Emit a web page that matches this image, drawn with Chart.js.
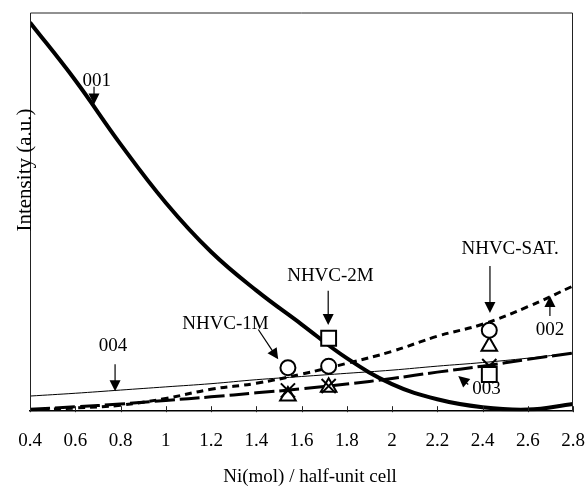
<!DOCTYPE html>
<html>
<head>
<meta charset="utf-8">
<script src="https://cdn.jsdelivr.net/npm/chart.js@4.4.1/dist/chart.umd.min.js"></script>
<style>
  body { margin: 0; background: #fff; }
  #caja { width: 586px; height: 487px; }
</style>
</head>
<body>
<div id="caja"><canvas id="grafico" width="586" height="487"></canvas></div>
<script>
// composicion Ni (mol / half-unit cell)
const ejeX = [0.4, 0.6, 0.8, 1.0, 1.2, 1.4, 1.6, 1.8, 2.0, 2.2, 2.4, 2.6, 2.8]
// intensidad de cada reflexion (curvas calculadas)
const curva001 = [97.5, 83, 67, 52.3, 40, 30.3, 21.8, 13.3, 6.8, 3, 1, 0.4, 1.8]
const curva002 = [0.3, 0.8, 1.5, 3.2, 5.5, 7.0, 9.3, 12.0, 15.0, 18.8, 21.8, 26.2, 31.4]
const curva003 = [0.5, 1.1, 1.8, 2.7, 3.6, 4.6, 5.6, 6.8, 8.2, 9.8, 11.3, 13.0, 14.6]
const curva004 = [3.8, 4.5, 5.3, 6.1, 6.9, 7.9, 8.7, 9.5, 10.3, 11.3, 12.2, 13.3, 14.6]

// muestras medidas: NHVC-1M, NHVC-2M, NHVC-SAT.
const muestrasX = [1.54, 1.72, 2.43]
const circulos = [10.9, 11.3, 20.3]
const cuadrados = [null, 18.3, 9.2]
const triangulos = [3.8, 6.0, 16.3]
const cruces = [5.2, 6.3, 11.3]

const etiquetasX = ["0.4", "0.6", "0.8", "1", "1.2", "1.4", "1.6", "1.8", "2", "2.2", "2.4", "2.6", "2.8"]

const fuente = "Liberation Serif, Times New Roman, serif"

function aPuntos(xs, ys) {
  return xs.map((x, i) => ({ x: x, y: ys[i] }))
}

// textos y flechas (en unidades de los ejes)
const notas = [
  { texto: "001", x: 0.695, y: 82.9 },
  { texto: "004", x: 0.767, y: 16.3 },
  { texto: "NHVC-1M", x: 1.264, y: 21.9 },
  { texto: "NHVC-2M", x: 1.728, y: 33.9 },
  { texto: "NHVC-SAT.", x: 2.522, y: 40.7 },
  { texto: "002", x: 2.698, y: 20.3 },
  { texto: "003", x: 2.418, y: 5.5 }
]
const flechas = [
  { x1: 0.683, y1: 81.4, x2: 0.683, y2: 76.9 },
  { x1: 0.776, y1: 11.8, x2: 0.776, y2: 5.0 },
  { x1: 1.409, y1: 20.5, x2: 1.497, y2: 13.0 },
  { x1: 1.718, y1: 30.2, x2: 1.718, y2: 21.6 },
  { x1: 2.433, y1: 36.4, x2: 2.433, y2: 24.6 },
  { x1: 2.698, y1: 23.9, x2: 2.698, y2: 28.9 },
  { x1: 2.337, y1: 6.7, x2: 2.293, y2: 8.8 }
]

function flecha(ctx, ax, ay, bx, by) {
  const ang = Math.atan2(by - ay, bx - ax)
  const largo = 11, ancho = 5.5
  ctx.beginPath()
  ctx.moveTo(ax, ay)
  ctx.lineTo(bx - Math.cos(ang) * largo * 0.8, by - Math.sin(ang) * largo * 0.8)
  ctx.stroke()
  ctx.beginPath()
  ctx.moveTo(bx, by)
  ctx.lineTo(bx - Math.cos(ang) * largo - Math.sin(ang) * ancho, by - Math.sin(ang) * largo + Math.cos(ang) * ancho)
  ctx.lineTo(bx - Math.cos(ang) * largo + Math.sin(ang) * ancho, by - Math.sin(ang) * largo - Math.cos(ang) * ancho)
  ctx.closePath()
  ctx.fill()
}

const extras = {
  id: "extras",
  afterDraw(chart) {
    const ctx = chart.ctx
    const a = chart.chartArea
    const sx = chart.scales.x
    const sy = chart.scales.y
    ctx.save()
    // marco
    ctx.strokeStyle = "#222"
    ctx.lineWidth = 1
    ctx.beginPath()
    ctx.moveTo(a.left + 0.5, a.bottom)
    ctx.lineTo(a.left + 0.5, a.top + 0.5)
    ctx.lineTo(a.right - 0.5, a.top + 0.5)
    ctx.lineTo(a.right - 0.5, a.bottom)
    ctx.stroke()
    // marcas hacia dentro
    sx.ticks.forEach(t => {
      const px = Math.round(sx.getPixelForValue(t.value)) + 0.5
      ctx.beginPath()
      ctx.moveTo(px, a.bottom - 5)
      ctx.lineTo(px, a.bottom + 1)
      ctx.stroke()
    })
    // flechas
    ctx.fillStyle = "#000"
    ctx.strokeStyle = "#000"
    ctx.lineWidth = 1.2
    flechas.forEach(f => {
      flecha(ctx, sx.getPixelForValue(f.x1), sy.getPixelForValue(f.y1), sx.getPixelForValue(f.x2), sy.getPixelForValue(f.y2))
    })
    // textos
    ctx.font = "19px " + fuente
    ctx.textAlign = "center"
    ctx.textBaseline = "middle"
    notas.forEach(n => {
      ctx.fillText(n.texto, sx.getPixelForValue(n.x), sy.getPixelForValue(n.y))
    })
    // titulos de ejes
    ctx.fillText("Ni(mol) / half-unit cell", 310, 477)
    ctx.font = "21px " + fuente
    ctx.translate(31, 170)
    ctx.rotate(-Math.PI / 2)
    ctx.textBaseline = "alphabetic"
    ctx.fillText("Intensity (a.u.)", 0, 0)
    ctx.restore()
  }
}

const marcador = {
  type: "scatter",
  showLine: false,
  borderColor: "#000",
  backgroundColor: "#fff",
  borderWidth: 2
}

const datos = {
  datasets: [
    Object.assign({}, marcador, { label: "circulo", data: aPuntos(muestrasX, circulos), pointStyle: "circle", pointRadius: 7.5 }),
    Object.assign({}, marcador, { label: "cuadrado", data: aPuntos(muestrasX, cuadrados), pointStyle: "rect", pointRadius: 10.5 }),
    Object.assign({}, marcador, { label: "cruz", data: aPuntos(muestrasX, cruces), pointStyle: "crossRot", pointRadius: 10 }),
    Object.assign({}, marcador, { label: "triangulo", data: aPuntos(muestrasX, triangulos), pointStyle: "triangle", pointRadius: 9 }),
    { type: "line", label: "001", data: aPuntos(ejeX, curva001), borderColor: "#000", borderWidth: 4, pointRadius: 0, tension: 0.4, fill: false },
    { type: "line", label: "002", data: aPuntos(ejeX, curva002), borderColor: "#000", borderWidth: 3, borderDash: [7, 5], pointRadius: 0, tension: 0.4, fill: false },
    { type: "line", label: "003", data: aPuntos(ejeX, curva003), borderColor: "#000", borderWidth: 3, borderDash: [20, 5], pointRadius: 0, tension: 0.4, fill: false },
    { type: "line", label: "004", data: aPuntos(ejeX, curva004), borderColor: "#000", borderWidth: 1, pointRadius: 0, tension: 0.4, fill: false }
  ]
}

new Chart(document.querySelector("#grafico"), {
  type: "line",
  data: datos,
  options: {
    responsive: false,
    animation: false,
    layout: { padding: { left: 30, right: 13, top: 12, bottom: 17 } },
    plugins: { legend: { display: false }, tooltip: { enabled: false } },
    scales: {
      x: {
        type: "linear",
        min: 0.4,
        max: 2.8,
        afterBuildTicks: (eje) => {
          eje.ticks = ejeX.map(v => ({ value: v }))
        },
        afterFit: (eje) => {
          eje.paddingLeft = 0
          eje.paddingRight = 0
        },
        ticks: {
          color: "#000",
          padding: 18,
          maxRotation: 0,
          autoSkip: false,
          font: { family: fuente, size: 19 },
          callback: (v, i) => etiquetasX[i]
        },
        grid: { display: false, drawTicks: false },
        border: { display: true, color: "#000", width: 1.5 }
      },
      y: {
        display: false,
        min: 0,
        max: 100
      }
    }
  },
  plugins: [extras]
})
</script>
</body>
</html>
